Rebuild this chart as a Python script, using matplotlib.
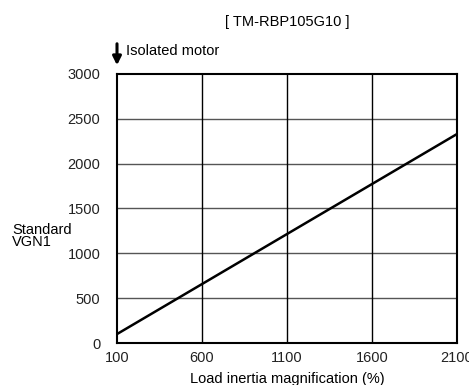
import matplotlib
matplotlib.use("Agg")
import matplotlib.pyplot as plt

plt.rcParams['font.family'] = ['Liberation Sans', 'DejaVu Sans']

# data
load_pct = [100, 2100]
vgn1 = [100, 2330]
x_ticks = [100, 600, 1100, 1600, 2100]
y_ticks = [0, 500, 1000, 1500, 2000, 2500, 3000]

fs = 10.5

fig = plt.figure(figsize=(4.69, 3.85), dpi=100)
ax = fig.add_axes([0.2495, 0.109, 0.7249, 0.699])

for y in y_ticks[1:-1]:
    ax.axhline(y, color='#555555', lw=1.0, zorder=1)
for x in x_ticks[1:-1]:
    ax.axvline(x, color='black', lw=1.0, zorder=1)

ax.plot(load_pct, vgn1, color='black', lw=1.8, zorder=3)

ax.set_xlim(100, 2100)
ax.set_ylim(0, 3000)
ax.set_xticks(x_ticks)
ax.set_yticks(y_ticks)
ax.tick_params(length=0, labelsize=fs, colors='#222222')
ax.tick_params(axis='x', pad=6)
ax.tick_params(axis='y', pad=12)
for s in ax.spines.values():
    s.set_linewidth(1.5)
    s.set_color('black')

ax.set_xlabel('Load inertia magnification (%)', fontsize=fs, labelpad=5)
fig.text(12 / 469, 1 - 236 / 385, 'Standard\nVGN1', fontsize=fs,
         ha='left', va='center', linespacing=0.85)
fig.text(287 / 469, 1 - 22 / 385, '[ TM-RBP105G10 ]', fontsize=fs,
         ha='center', va='center')

ax.annotate('', xy=(117 / 469, 1 - 68 / 385), xytext=(117 / 469, 1 - 41 / 385),
            xycoords='figure fraction',
            arrowprops=dict(arrowstyle='-|>,head_width=0.25,head_length=0.5',
                            color='black', lw=2.2))
fig.text(126 / 469, 1 - 51 / 385, 'Isolated motor', fontsize=fs,
         ha='left', va='center')

fig.savefig('out.png', dpi=100)
